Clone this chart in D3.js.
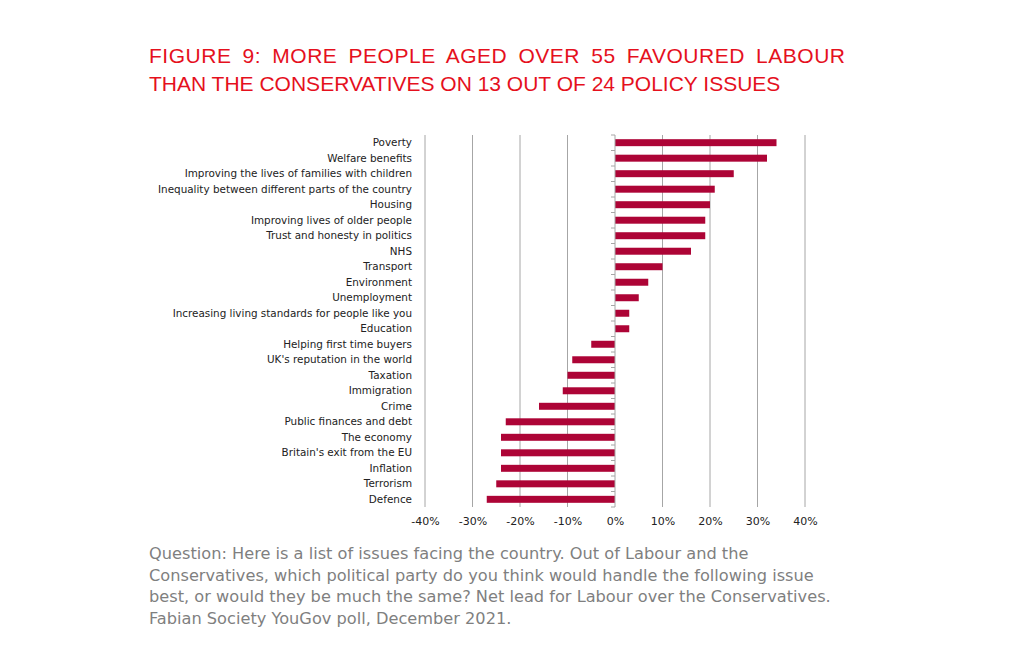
<!DOCTYPE html>
<html>
<head>
<meta charset="utf-8">
<script src="https://cdn.jsdelivr.net/npm/d3@7"></script>
<style>
  body { margin: 0; background: #fff; }
  svg { display: block; }
</style>
</head>
<body>
<svg id="chart" width="1010" height="648"></svg>
<script>
// issues, top to bottom as in the figure
var issues = [
  "Poverty", "Welfare benefits", "Improving the lives of families with children",
  "Inequality between different parts of the country", "Housing",
  "Improving lives of older people", "Trust and honesty in politics", "NHS",
  "Transport", "Environment", "Unemployment",
  "Increasing living standards for people like you", "Education",
  "Helping first time buyers", "UK's reputation in the world", "Taxation",
  "Immigration", "Crime", "Public finances and debt", "The economy",
  "Britain's exit from the EU", "Inflation", "Terrorism", "Defence"
];
// net lead for Labour over the Conservatives, percent
var netLead = [34, 32, 25, 21, 20, 19, 19, 16, 10, 7, 5, 3, 3,
  -5, -9, -10, -11, -16, -23, -24, -24, -24, -25, -27];
var xTicks = [-40, -30, -20, -10, 0, 10, 20, 30, 40];

var titleLines = [
  "FIGURE 9: MORE PEOPLE AGED OVER 55 FAVOURED LABOUR",
  "THAN THE CONSERVATIVES ON 13 OUT OF 24 POLICY ISSUES"
];
var noteLines = [
  "Question: Here is a list of issues facing the country. Out of Labour and the",
  "Conservatives, which political party do you think would handle the following issue",
  "best, or would they be much the same? Net lead for Labour over the Conservatives.",
  "Fabian Society YouGov poll, December 2021."
];

var data = issues.map(function (d, i) { return { issue: d, value: netLead[i] }; });

var svg = d3.select("#chart");
var titleFont = "'Liberation Sans', Arial, sans-serif";
var font = "'DejaVu Sans', Verdana, sans-serif";

var plot = { left: 425, right: 805, top: 135, bottom: 507 };

var x = d3.scaleLinear()
  .domain([-40, 40])
  .range([plot.left, plot.right]);
var y = d3.scaleBand()
  .domain(issues)
  .range([plot.top, plot.bottom])
  .paddingInner(0.55)
  .paddingOuter(0.27);

// title, first line justified to the block width
var title = svg.append("g").selectAll("text")
  .data(titleLines)
  .enter().append("text")
  .attr("x", 149)
  .attr("y", function (d, i) { return 63 + i * 28; })
  .style("font-family", titleFont)
  .style("font-size", "21px")
  .style("fill", "#e5101d")
  .text(function (d) { return d; });
title.filter(function (d, i) { return i === 0; })
  .each(function (d) {
    var w = this.getComputedTextLength();
    var extra = 696 - w;
    var gaps = d.split(" ").length - 1;
    var ls = extra * 0.4 / (d.length - 1);
    d3.select(this)
      .style("letter-spacing", ls + "px")
      .style("word-spacing", (extra * 0.6 / gaps) + "px");
  });

// gridlines
svg.append("g").selectAll("line")
  .data(xTicks.filter(function (t) { return t !== 0; }))
  .enter().append("line")
  .attr("x1", function (d) { return x(d); })
  .attr("x2", function (d) { return x(d); })
  .attr("y1", plot.top)
  .attr("y2", plot.bottom)
  .style("stroke", "#a6a6a6")
  .style("stroke-width", 1);

// bars
svg.append("g").selectAll("rect")
  .data(data)
  .enter().append("rect")
  .attr("x", function (d) { return x(Math.min(0, d.value)); })
  .attr("width", function (d) { return Math.abs(x(d.value) - x(0)); })
  .attr("y", function (d) { return y(d.issue); })
  .attr("height", y.bandwidth())
  .style("fill", "#ad0436");

// vertical axis at zero with category tick marks
var boundaries = d3.range(issues.length + 1).map(function (i) { return plot.top + i * (plot.bottom - plot.top) / issues.length; });
var zeroAxis = svg.append("g");
zeroAxis.append("line")
  .attr("x1", x(0)).attr("x2", x(0))
  .attr("y1", plot.top).attr("y2", plot.bottom)
  .style("stroke", "#a6a6a6");
zeroAxis.selectAll("line.tick")
  .data(boundaries)
  .enter().append("line")
  .attr("class", "tick")
  .attr("x1", x(0) - 4).attr("x2", x(0))
  .attr("y1", function (d) { return d; })
  .attr("y2", function (d) { return d; })
  .style("stroke", "#a6a6a6");

// category labels
svg.append("g").selectAll("text")
  .data(data)
  .enter().append("text")
  .attr("x", 412)
  .attr("y", function (d) { return y(d.issue) + y.bandwidth() / 2; })
  .attr("dy", "0.35em")
  .attr("text-anchor", "end")
  .style("font-family", font)
  .style("font-size", "10.4px")
  .style("fill", "#222")
  .text(function (d) { return d.issue; });

// x axis labels
var xAxis = d3.axisBottom(x)
  .tickValues(xTicks)
  .tickSize(0)
  .tickPadding(10)
  .tickFormat(function (d) { return d + "%"; });
var gx = svg.append("g")
  .attr("transform", "translate(0," + plot.bottom + ")")
  .call(xAxis);
gx.select(".domain").remove();
gx.selectAll("text")
  .style("font-family", font)
  .style("font-size", "11px")
  .style("fill", "#222");

// note
svg.append("g").selectAll("text")
  .data(noteLines)
  .enter().append("text")
  .attr("x", 149)
  .attr("y", function (d, i) { return 559 + i * 21.5; })
  .style("font-family", font)
  .style("font-size", "16.2px")
  .style("fill", "#7f7f7f")
  .text(function (d) { return d; });
</script>
</body>
</html>
